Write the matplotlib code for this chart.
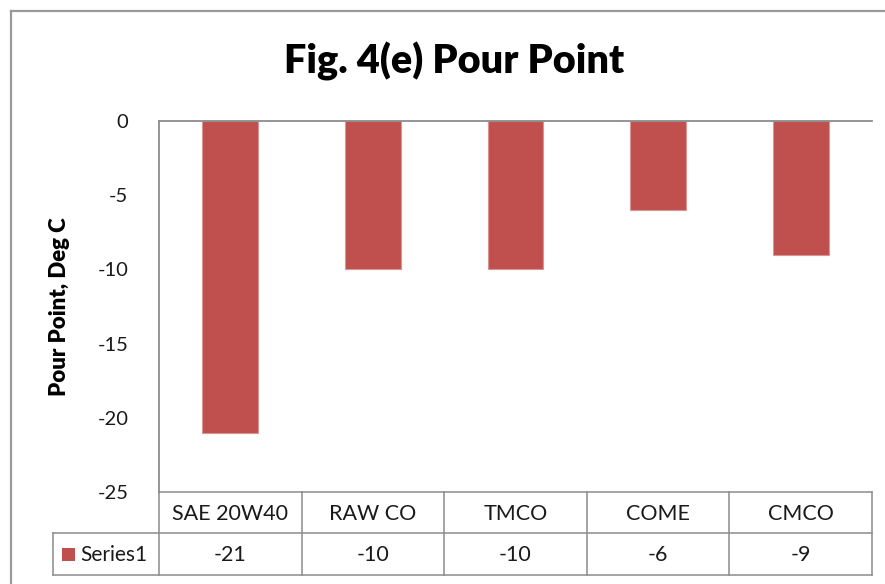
import matplotlib
matplotlib.use("Agg")
import matplotlib.pyplot as plt
from matplotlib.lines import Line2D
from matplotlib.patches import Rectangle
import matplotlib.transforms as mtransforms

# Data
categories = ["SAE 20W40", "RAW CO", "TMCO", "COME", "CMCO"]
pour_point = [-21, -10, -10, -6, -9]
series_name = "Series1"
y_ticks = [0, -5, -10, -15, -20, -25]

W, H = 885, 584
BAR_COLOR = "#C0504D"
LINE_COLOR = "#8C8C8C"
TEXT_COLOR = "#1A1A1A"

plt.rcParams["font.family"] = ["Lato", "DejaVu Sans"]

fig = plt.figure(figsize=(W / 100, H / 100), dpi=100)
fig.patch.set_facecolor("white")


def fx(px):
    return px / W


def fy(py):
    return 1 - py / H


# Plot area (pixel geometry)
left, right, top, bottom = 159, 872, 121, 492
ax = fig.add_axes([fx(left), fy(bottom), fx(right) - fx(left), fy(top) - fy(bottom)])

x = list(range(len(categories)))
ax.bar(x, pour_point, width=0.39, color=BAR_COLOR, edgecolor="#D99594",
       linewidth=0.8, zorder=2)
ax.set_xlim(-0.5, len(categories) - 0.5)
ax.set_ylim(-25, 0)
ax.set_yticks(y_ticks)
ax.set_yticklabels([str(v) for v in y_ticks])
ax.tick_params(axis="y", length=0, pad=22, labelsize=14.5, labelcolor=TEXT_COLOR)
ax.set_xticks([])
for side in ("bottom", "right"):
    ax.spines[side].set_visible(False)
for side in ("left", "top"):
    ax.spines[side].set_color(LINE_COLOR)
    ax.spines[side].set_linewidth(1.3)
ax.set_facecolor("white")

# Axis title
fig.text(fx(59), fy(307), "Pour Point, Deg C", rotation=90, ha="center",
         va="center", fontsize=16, fontweight="heavy", color="black")

# Chart title
fig.text(fx(454), fy(61), "Fig. 4(e) Pour Point", ha="center", va="center",
         fontsize=28.5, fontweight="heavy", color="black")

# Outer chart border
fig.add_artist(Line2D([fx(11), fx(11)], [fy(11), fy(H + 5)], color="#9A9A9A",
                      lw=1.6, transform=fig.transFigure))
fig.add_artist(Line2D([fx(11), fx(W + 5)], [fy(11), fy(11)], color="#9A9A9A",
                      lw=1.6, transform=fig.transFigure))

# Data table below the plot
row_top, row_mid, row_bot = 492, 533, 575
legend_left = 53
col_edges = [left + i * (right - left) / len(categories) for i in range(len(categories) + 1)]


def hline(x0, x1, y):
    fig.add_artist(Line2D([fx(x0), fx(x1)], [fy(y), fy(y)], color=LINE_COLOR,
                          lw=1.1, transform=fig.transFigure))


def vline(xp, y0, y1):
    fig.add_artist(Line2D([fx(xp), fx(xp)], [fy(y0), fy(y1)], color=LINE_COLOR,
                          lw=1.1, transform=fig.transFigure))


hline(left, right, row_top)
hline(legend_left, right, row_mid)
hline(legend_left, right, row_bot)
for xe in col_edges:
    vline(xe, row_top, row_bot)
vline(legend_left, row_mid, row_bot)

blend = mtransforms.blended_transform_factory(ax.transData, fig.transFigure)
for xi, cat, val in zip(x, categories, pour_point):
    fig.text(xi, fy((row_top + row_mid) / 2 + 1), cat, transform=blend,
             ha="center", va="center", fontsize=15.5, color=TEXT_COLOR)
    fig.text(xi, fy((row_mid + row_bot) / 2 + 1), str(val), transform=blend,
             ha="center", va="center", fontsize=15.5, color=TEXT_COLOR)

# Legend key in the table
fig.add_artist(Rectangle((fx(62), fy(561)), fx(13), fy(548) - fy(561),
                         facecolor=BAR_COLOR, edgecolor="none",
                         transform=fig.transFigure))
fig.text(fx(80), fy(555), series_name, ha="left", va="center", fontsize=15,
         color=TEXT_COLOR)

fig.savefig("out.png", dpi=100)
